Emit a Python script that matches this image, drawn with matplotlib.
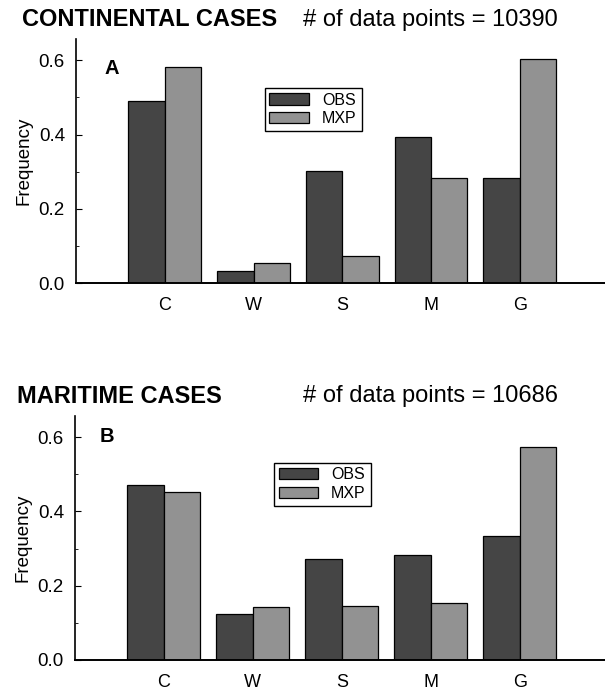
import numpy as np
import matplotlib
matplotlib.use("Agg")
import matplotlib.pyplot as plt
from matplotlib.ticker import MultipleLocator

plt.rcParams['font.family'] = ['Liberation Sans', 'DejaVu Sans']

# data
categories = ['C', 'W', 'S', 'M', 'G']
series = ['OBS', 'MXP']
cont_obs = [0.49, 0.033, 0.303, 0.393, 0.284]
cont_mxp = [0.581, 0.054, 0.074, 0.284, 0.604]
mari_obs = [0.471, 0.123, 0.273, 0.284, 0.334]
mari_mxp = [0.453, 0.144, 0.145, 0.154, 0.574]
cont_n = 10390
mari_n = 10686

obs_col = '#454545'
mxp_col = '#929292'

fig = plt.figure(figsize=(6.05, 6.91), dpi=100)
ax1 = fig.add_axes([76/605, 1-283.3/691, 1-76/605, (283.3-39)/691])
ax2 = fig.add_axes([75/605, 1-660/691, 1-75/605, (660-416)/691])

x = np.arange(len(categories))
w = 0.41

def panel(ax, obs, mxp, letter, lpos, legpos):
    ax.bar(x - w/2, obs, w, color=obs_col, edgecolor='black', linewidth=0.9, label=series[0])
    ax.bar(x + w/2, mxp, w, color=mxp_col, edgecolor='black', linewidth=0.9, label=series[1])
    ax.set_xlim(-1.0, 4.96)
    ax.set_ylim(0, 0.657)
    ax.set_xticks(x)
    ax.set_xticklabels(categories, fontsize=13)
    ax.tick_params(axis='x', length=0, pad=10)
    ax.yaxis.set_major_locator(MultipleLocator(0.2))
    ax.yaxis.set_minor_locator(MultipleLocator(0.1))
    ax.yaxis.set_major_formatter(plt.FormatStrFormatter('%.1f'))
    ax.tick_params(axis='y', which='major', direction='in', length=4, width=0.8,
                   labelsize=13.5, pad=8)
    ax.tick_params(axis='y', which='minor', direction='in', length=2.5, width=0.6)
    for s in ['top', 'right']:
        ax.spines[s].set_visible(False)
    ax.spines['left'].set_linewidth(1.2)
    ax.spines['bottom'].set_linewidth(1.4)
    ax.set_ylabel('Frequency', fontsize=13.5)
    ax.yaxis.set_label_coords(-0.083, 0.5)
    ax.text(lpos[0], lpos[1], letter, transform=ax.transAxes, fontsize=14.5,
            fontweight='bold', ha='center', va='center')
    leg = ax.legend(loc='upper left', bbox_to_anchor=legpos, fontsize=11.5,
                    fancybox=False, edgecolor='black', framealpha=1,
                    handlelength=2.5, handleheight=0.7, handletextpad=0.8,
                    borderpad=0.3, labelspacing=0.25, borderaxespad=0)
    leg.get_frame().set_linewidth(1.0)

panel(ax1, cont_obs, cont_mxp, 'A', (0.067, 0.881), (0.3565, 0.8006))
panel(ax2, mari_obs, mari_mxp, 'B', (0.060, 0.918), (0.375, 0.8086))

fig.text(22/605, 1-26/691, 'CONTINENTAL CASES', fontsize=17, fontweight='bold',
         va='baseline', ha='left')
fig.text(303/605, 1-26/691, '# of data points = %d' % cont_n, fontsize=17,
         va='baseline', ha='left')
fig.text(17/605, 1-402.7/691, 'MARITIME CASES', fontsize=17, fontweight='bold',
         va='baseline', ha='left')
fig.text(303/605, 1-402/691, '# of data points = %d' % mari_n, fontsize=17,
         va='baseline', ha='left')

fig.savefig('out.png', dpi=100)
